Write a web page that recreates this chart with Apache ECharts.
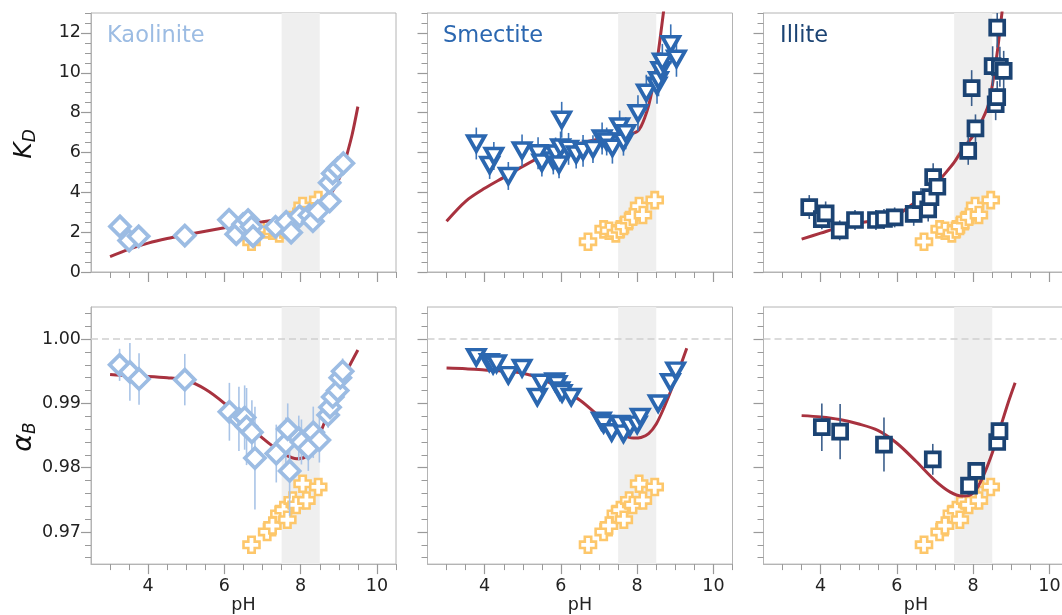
<!DOCTYPE html>
<html>
<head>
<meta charset="utf-8">
<title>KD and alpha_B versus pH</title>
<script src="https://cdn.jsdelivr.net/npm/echarts@6/dist/echarts.min.js"></script>
<style>
  html, body { margin: 0; padding: 0; background: #fff; overflow: hidden; }
  /* the right-hand panel runs past the picture edge, as in the original */
  #main { width: 1075px; height: 615px; }
</style>
</head>
<body>
<div id="main"></div>
<script type="text/javascript">
// ---- ticks ----
var phMajor = [4, 6, 8, 10];
var phMinor = [3, 3.5, 4.5, 5, 5.5, 6.5, 7, 7.5, 8.5, 9, 9.5, 10.5];
var kdMajor = [0, 2, 4, 6, 8, 10, 12];
var kdMinor = [0.5, 1, 1.5, 2.5, 3, 3.5, 4.5, 5, 5.5, 6.5, 7, 7.5, 8.5, 9, 9.5, 10.5, 11, 11.5, 12.5, 13];
var alphaMajor = [0.97, 0.98, 0.99, 1.00];
var alphaMinor = [0.966, 0.968, 0.972, 0.974, 0.976, 0.978, 0.982, 0.984, 0.986, 0.988,
                  0.992, 0.994, 0.996, 0.998, 1.002, 1.004];

// ---- reference (orange crosses), same in every panel ----
var refPh    = [6.71, 7.12, 7.26, 7.44, 7.55, 7.65, 7.79, 7.89, 8.05, 8.15, 8.46];
var refKd    = [1.52, 2.14, 2.07, 1.94, 2.14, 2.31, 2.61, 2.77, 3.31, 2.86, 3.61];
var refAlpha = [0.9680, 0.9700, 0.9710, 0.9728, 0.9734, 0.9719, 0.9749, 0.9742, 0.9775, 0.9749, 0.9770];

// ---- kaolinite ----
var kaoKdPh  = [3.26, 3.50, 3.75, 4.96, 6.12, 6.31, 6.49, 6.62, 6.71, 6.75, 7.34, 7.62, 7.75, 7.97, 8.23, 8.32, 8.45, 8.76, 8.76, 8.84, 8.97, 9.12];
var kaoKd    = [2.29, 1.58, 1.79, 1.83, 2.62, 1.90, 2.40, 2.61, 2.27, 1.80, 2.27, 2.52, 1.98, 2.81, 2.85, 2.55, 3.05, 3.55, 4.48, 4.95, 5.20, 5.46];
var kaoKdErr = [0.2, 0.2, 0.2, 0.2, 0.2, 0.2, 0.2, 0.2, 0.2, 0.2, 0.2, 0.2, 0.2, 0.2, 0.2, 0.2, 0.2, 0.2, 0.2, 0.2, 0.2, 0.2];
var kaoKdFitPh = [3.0, 3.5, 4.0, 4.5, 5.0, 5.5, 6.0, 6.5, 7.0, 7.5, 8.0, 8.5, 8.8, 9.0, 9.1, 9.2, 9.35, 9.5];
var kaoKdFit   = [0.77, 1.15, 1.45, 1.68, 1.87, 2.05, 2.22, 2.38, 2.52, 2.68, 2.90, 3.35, 3.95, 4.65, 5.15, 5.80, 6.90, 8.30];

var kaoAlphaPh  = [3.25, 3.52, 3.76, 4.96, 6.13, 6.38, 6.53, 6.58, 6.72, 6.80, 7.36, 7.61, 7.66, 7.71, 7.95, 8.02, 8.20, 8.33, 8.49, 8.72, 8.77, 8.84, 8.97, 9.04, 9.10];
var kaoAlpha    = [0.9960, 0.9949, 0.9938, 0.9937, 0.9887, 0.9876, 0.9878, 0.9864, 0.9855, 0.9815, 0.9822, 0.9838, 0.9860, 0.9795, 0.9846, 0.9840, 0.9830, 0.9855, 0.9843, 0.9882, 0.9894, 0.9910, 0.9920, 0.9940, 0.9950];
var kaoAlphaErr = [0.0025, 0.0045, 0.0040, 0.0040, 0.0045, 0.0050, 0.0050, 0.0060, 0.0050, 0.0080, 0.0045, 0.0040, 0.0040, 0.0070, 0.0035, 0.0035, 0.0035, 0.0040, 0.0035, 0.0020, 0.0020, 0.0020, 0.0020, 0.0020, 0.0020];
var kaoAlphaFitPh = [3.0, 3.5, 4.0, 4.5, 5.0, 5.5, 6.0, 6.5, 7.0, 7.3, 7.6, 7.9, 8.1, 8.3, 8.5, 8.7, 9.0, 9.25, 9.5];
var kaoAlphaFit   = [0.9945, 0.9943, 0.9942, 0.9940, 0.9936, 0.9922, 0.9900, 0.9872, 0.9846, 0.9832, 0.9820, 0.9814, 0.9816, 0.9828, 0.9852, 0.9882, 0.9925, 0.9955, 0.9983];

// ---- smectite ----
var smeKdPh  = [3.78, 4.13, 4.24, 4.62, 4.98, 5.40, 5.50, 5.80, 5.86, 5.95, 5.99, 6.02, 6.20, 6.40, 6.58, 6.84, 7.08, 7.20, 7.35, 7.54, 7.64, 7.70, 8.02, 8.24, 8.52, 8.56, 8.62, 8.66, 8.88, 9.03];
var smeKd    = [6.45, 5.37, 5.82, 4.82, 6.10, 5.96, 5.49, 5.60, 5.95, 5.40, 6.25, 7.64, 6.18, 5.90, 6.08, 6.17, 6.70, 6.55, 6.24, 7.30, 6.54, 6.96, 7.97, 9.00, 9.35, 9.62, 10.13, 10.55, 11.43, 10.70];
var smeKdErr = [0.8, 0.7, 0.7, 0.7, 0.8, 0.8, 0.7, 0.7, 0.8, 0.7, 0.8, 0.9, 0.8, 0.7, 0.8, 0.7, 0.8, 0.7, 0.8, 0.8, 0.7, 0.8, 0.9, 0.9, 0.9, 0.8, 0.9, 0.9, 1.0, 0.9];
var smeKdFitPh = [3.0, 3.5, 4.0, 4.5, 5.0, 5.5, 6.0, 6.5, 7.0, 7.5, 7.8, 8.0, 8.1, 8.2, 8.3, 8.4, 8.5, 8.6, 8.7];
var smeKdFit   = [2.55, 3.55, 4.20, 4.75, 5.30, 5.80, 6.15, 6.45, 6.68, 6.83, 6.92, 7.05, 7.30, 7.75, 8.35, 9.20, 10.30, 11.70, 13.20];

var smeAlphaPh  = [3.78, 4.12, 4.22, 4.31, 4.62, 4.98, 5.38, 5.49, 5.84, 5.90, 5.97, 6.03, 6.27, 7.06, 7.12, 7.33, 7.54, 7.64, 7.81, 8.00, 8.08, 8.55, 8.87, 9.01];
var smeAlpha    = [0.9972, 0.9964, 0.9960, 0.9962, 0.9944, 0.9955, 0.9910, 0.9932, 0.9934, 0.9930, 0.9920, 0.9916, 0.9910, 0.9873, 0.9868, 0.9855, 0.9868, 0.9853, 0.9864, 0.9867, 0.9879, 0.9900, 0.9933, 0.9951];
var smeAlphaErr = [0.0008, 0.0008, 0.0008, 0.0008, 0.0008, 0.0008, 0.0008, 0.0008, 0.0008, 0.0008, 0.0008, 0.0008, 0.0008, 0.0008, 0.0008, 0.0008, 0.0008, 0.0008, 0.0008, 0.0008, 0.0008, 0.0008, 0.0008, 0.0008];
var smeAlphaFitPh = [3.0, 3.5, 4.0, 4.5, 5.0, 5.5, 6.0, 6.5, 7.0, 7.3, 7.6, 7.9, 8.1, 8.3, 8.5, 8.7, 8.9, 9.1, 9.3];
var smeAlphaFit   = [0.9955, 0.9954, 0.9952, 0.9950, 0.9947, 0.9938, 0.9922, 0.9905, 0.9880, 0.9865, 0.9852, 0.9846, 0.9847, 0.9853, 0.9868, 0.9893, 0.9922, 0.9953, 0.9986];

// ---- illite ----
var illKdPh  = [3.70, 4.03, 4.13, 4.50, 4.90, 5.45, 5.66, 5.94, 6.44, 6.63, 6.82, 6.88, 6.95, 7.06, 7.87, 8.06, 7.96, 8.59, 8.63, 8.51, 8.70, 8.80, 8.63];
var illKd    = [3.26, 2.65, 2.94, 2.09, 2.61, 2.61, 2.66, 2.74, 2.92, 3.61, 3.14, 3.76, 4.76, 4.28, 6.08, 7.21, 9.23, 8.42, 8.78, 10.33, 10.30, 10.10, 12.27];
var illKdErr = [0.6, 0.5, 0.6, 0.5, 0.5, 0.5, 0.5, 0.5, 0.6, 0.6, 0.6, 0.6, 0.7, 0.6, 0.7, 0.7, 0.9, 0.8, 0.8, 1.0, 1.0, 1.0, 1.0];
var illKdFitPh = [3.5, 4.0, 4.5, 5.0, 5.5, 5.8, 6.0, 6.3, 6.6, 7.0, 7.2, 7.5, 7.7, 8.0, 8.15, 8.4, 8.6, 8.76];
var illKdFit   = [1.65, 1.95, 2.25, 2.45, 2.60, 2.70, 2.85, 3.25, 3.70, 4.35, 4.80, 5.50, 6.10, 6.85, 7.30, 8.40, 10.60, 13.10];

var illAlphaPh  = [4.03, 4.51, 5.66, 6.94, 7.89, 8.08, 8.63, 8.69];
var illAlpha    = [0.9863, 0.9856, 0.9836, 0.9813, 0.9772, 0.9795, 0.9840, 0.9857];
var illAlphaErr = [0.0037, 0.0043, 0.0042, 0.0024, 0.0015, 0.0012, 0.0008, 0.0006];
var illAlphaFitPh = [3.5, 4.0, 4.5, 5.0, 5.5, 6.0, 6.5, 7.0, 7.4, 7.7, 7.9, 8.1, 8.3, 8.5, 8.7, 8.9, 9.1];
var illAlphaFit   = [0.9881, 0.9879, 0.9875, 0.9868, 0.9858, 0.9838, 0.9810, 0.9780, 0.9762, 0.9756, 0.9757, 0.9768, 0.9792, 0.9823, 0.9860, 0.9898, 0.9932];

// ---- styling ----
var FONT = 'DejaVu Sans';
var fitColor = '#a8323f';
var refColor = '#fdc76b';
var bandColor = '#efefef';
var frameColor = '#b4b4b4';
var tickColor = '#9a9a9a';
var crossPath = 'path://M3,0H7V3H10V7H7V10H3V7H0V3H3Z';

var minerals = [
  { name: 'Kaolinite', color: '#9cbce3', bar: '#a9c4e7', symbol: 'diamond', size: 20, rotate: 0, titleLeft: 107 },
  { name: 'Smectite',  color: '#2b67b0', bar: '#3a72b6', symbol: 'triangle', size: [17, 15], rotate: 180, titleLeft: 443 },
  { name: 'Illite',    color: '#1b4373', bar: '#3c5f8c', symbol: 'rect', size: 14, rotate: 0, titleLeft: 780 }
];

// panel order: row 0 = K_D, row 1 = alpha_B ; col = mineral
var panels = [
  { ph: kaoKdPh, v: kaoKd, e: kaoKdErr, fph: kaoKdFitPh, fv: kaoKdFit, ref: refKd },
  { ph: smeKdPh, v: smeKd, e: smeKdErr, fph: smeKdFitPh, fv: smeKdFit, ref: refKd },
  { ph: illKdPh, v: illKd, e: illKdErr, fph: illKdFitPh, fv: illKdFit, ref: refKd },
  { ph: kaoAlphaPh, v: kaoAlpha, e: kaoAlphaErr, fph: kaoAlphaFitPh, fv: kaoAlphaFit, ref: refAlpha },
  { ph: smeAlphaPh, v: smeAlpha, e: smeAlphaErr, fph: smeAlphaFitPh, fv: smeAlphaFit, ref: refAlpha },
  { ph: illAlphaPh, v: illAlpha, e: illAlphaErr, fph: illAlphaFitPh, fv: illAlphaFit, ref: refAlpha }
];

var gridLeft = [91, 427.5, 763.5];
var gridTop = [13, 307];
var gridW = 305, gridH = 259;

function zip(a, b) {
  var out = [];
  for (var i = 0; i < a.length; i++) out.push([a[i], b[i]]);
  return out;
}
function zip3(a, b, c) {
  var out = [];
  for (var i = 0; i < a.length; i++) out.push([a[i], b[i], c[i]]);
  return out;
}

function errBar(params, api) {
  var x = api.value(0), y = api.value(1), e = api.value(2);
  var p1 = api.coord([x, y - e]);
  var p2 = api.coord([x, y + e]);
  return {
    type: 'line',
    shape: { x1: p1[0], y1: p1[1], x2: p2[0], y2: p2[1] },
    style: { stroke: api.visual('color'), lineWidth: 1.6 }
  };
}

var grid = [], xAxis = [], yAxis = [], series = [];

panels.forEach(function (p, i) {
  var row = Math.floor(i / 3), col = i % 3;
  var m = minerals[col];
  var isKd = row === 0;

  grid.push({
    left: gridLeft[col], top: gridTop[row], width: gridW, height: gridH,
    show: true, borderColor: frameColor, borderWidth: 1, backgroundColor: 'transparent'
  });

  // major x axis
  xAxis.push({
    gridIndex: i, type: 'value', min: 2.5, max: 10.5, position: 'bottom',
    axisLine: { show: true, onZero: false, lineStyle: { color: frameColor } },
    axisTick: { show: true, customValues: phMajor, length: 10, lineStyle: { color: tickColor, width: 1.2 } },
    axisLabel: { show: !isKd, customValues: phMajor, margin: 13, color: '#222', fontSize: 17.5, fontFamily: FONT },
    splitLine: { show: false },
    name: isKd ? '' : 'pH', nameLocation: 'middle', nameGap: 29,
    nameTextStyle: { color: '#222', fontSize: 17.5, fontFamily: FONT }
  });
  // minor x axis
  xAxis.push({
    gridIndex: i, type: 'value', min: 2.5, max: 10.5, position: 'bottom',
    axisLine: { show: false, onZero: false },
    axisTick: { show: true, customValues: phMinor, length: 6, lineStyle: { color: tickColor, width: 1 } },
    axisLabel: { show: false },
    splitLine: { show: false }
  });

  var yMin = isKd ? 0 : 0.965, yMax = isKd ? 13 : 1.005;
  yAxis.push({
    gridIndex: i, type: 'value', min: yMin, max: yMax, position: 'left',
    axisLine: { show: true, onZero: false, lineStyle: { color: frameColor } },
    axisTick: { show: true, customValues: isKd ? kdMajor : alphaMajor, length: 10, lineStyle: { color: tickColor, width: 1.2 } },
    axisLabel: {
      show: col === 0, customValues: isKd ? kdMajor : alphaMajor, margin: 10,
      color: '#222', fontSize: 17.5, fontFamily: FONT,
      formatter: isKd ? function (v) { return String(Math.round(v)); } : function (v) { return v.toFixed(2); }
    },
    splitLine: { show: false }
  });
  yAxis.push({
    gridIndex: i, type: 'value', min: yMin, max: yMax, position: 'left',
    axisLine: { show: false, onZero: false },
    axisTick: { show: true, customValues: isKd ? kdMinor : alphaMinor, length: 6, lineStyle: { color: tickColor, width: 1 } },
    axisLabel: { show: false },
    splitLine: { show: false }
  });

  var xi = 2 * i, yi = 2 * i;

  // shaded pH band (and the 1.00 guide in the alpha row)
  var bandSeries = {
    type: 'line', xAxisIndex: xi, yAxisIndex: yi, data: [], z: 1, silent: true,
    markArea: {
      silent: true, itemStyle: { color: bandColor },
      data: [[{ xAxis: 7.5 }, { xAxis: 8.5 }]]
    }
  };
  if (!isKd) {
    bandSeries.markLine = {
      silent: true, symbol: 'none', label: { show: false },
      lineStyle: { color: '#cfcfcf', type: [7, 4], width: 1.5 },
      data: [{ yAxis: 1.0 }]
    };
  }
  series.push(bandSeries);

  // reference crosses
  series.push({
    type: 'scatter', xAxisIndex: xi, yAxisIndex: yi, z: 2, silent: true,
    symbol: crossPath, symbolSize: 16,
    itemStyle: { color: '#ffffff', borderColor: refColor, borderWidth: 2.6, opacity: 1 },
    data: zip(refPh, p.ref)
  });

  // fit curve
  series.push({
    type: 'line', xAxisIndex: xi, yAxisIndex: yi, z: 3, silent: true,
    smooth: 0.3, showSymbol: false, clip: true,
    lineStyle: { color: fitColor, width: 3 },
    data: zip(p.fph, p.fv)
  });

  // error bars
  series.push({
    type: 'custom', xAxisIndex: xi, yAxisIndex: yi, z: 4, silent: true, clip: true,
    renderItem: errBar,
    itemStyle: { color: m.bar },
    encode: { x: 0, y: 1 },
    data: zip3(p.ph, p.v, p.e)
  });

  // markers
  series.push({
    type: 'scatter', xAxisIndex: xi, yAxisIndex: yi, z: 5, silent: true, clip: true,
    symbol: m.symbol, symbolSize: m.size, symbolRotate: m.rotate,
    itemStyle: { color: '#ffffff', borderColor: m.color, borderWidth: 3.7, opacity: 1 },
    data: zip(p.ph, p.v)
  });
});

var titles = minerals.map(function (m) {
  return {
    text: m.name, left: m.titleLeft, top: 25, padding: 0,
    textStyle: { color: m.color, fontSize: 22.5, fontWeight: 'normal', fontFamily: FONT }
  };
});

var chart = echarts.init(document.getElementById('main'), null, { renderer: 'canvas' });
chart.setOption({
  animation: false,
  backgroundColor: '#ffffff',
  title: titles,
  grid: grid,
  xAxis: xAxis,
  yAxis: yAxis,
  series: series,
  graphic: [
    {
      type: 'text', x: 24, y: 144, rotation: Math.PI / 2,
      style: {
        text: '{k|K}{d|D}', align: 'center', verticalAlign: 'middle',
        rich: {
          k: { fontSize: 25, fontStyle: 'italic', fontFamily: FONT, fill: '#111' },
          d: { fontSize: 17, fontStyle: 'italic', fontFamily: FONT, fill: '#111', padding: [14, 0, 0, 0] }
        }
      }
    },
    {
      type: 'text', x: 24, y: 437, rotation: Math.PI / 2,
      style: {
        text: '{k|α}{d|B}', align: 'center', verticalAlign: 'middle',
        rich: {
          k: { fontSize: 27, fontStyle: 'italic', fontFamily: FONT, fill: '#111' },
          d: { fontSize: 17, fontStyle: 'italic', fontFamily: FONT, fill: '#111', padding: [14, 0, 0, 0] }
        }
      }
    }
  ]
});
</script>
</body>
</html>
